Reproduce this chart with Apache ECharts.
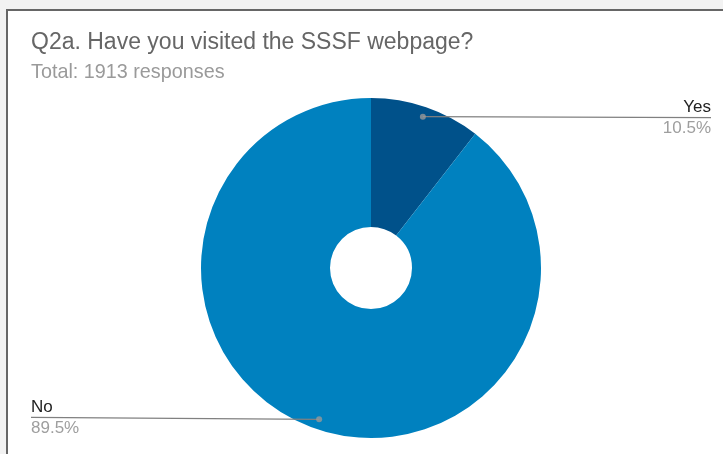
<!DOCTYPE html>
<html>
<head>
<meta charset="utf-8">
<script src="https://cdn.jsdelivr.net/npm/echarts@6/dist/echarts.min.js"></script>
<style>
  html, body { margin: 0; padding: 0; background: #f2f2f2; width: 723px; height: 454px; overflow: hidden; }
  #frame { position: absolute; left: 6px; top: 9px; width: 900px; height: 600px; background: #fff; border-left: 2px solid #666; border-top: 2px solid #666; }
  #chart { position: absolute; left: 0; top: 0; width: 723px; height: 454px; }
</style>
</head>
<body>
<div id="frame"></div>
<div id="chart"></div>
<script>
const titleText = 'Q2a. Have you visited the SSSF webpage?';
const subtitleText = 'Total: 1913 responses';
const categories = ['Yes', 'No'];
const counts = [201, 1712];
const colors = ['#00518a', '#0081bf'];

const total = counts.reduce((a, b) => a + b, 0);
const center = [371, 268];
const chart = echarts.init(document.getElementById('chart'));
const W = 723;
const FONT = 'Liberation Sans, Arial, sans-serif';

// mid-angle positions (percent of circle) for the label anchor dots
const mids = [];
let acc = 0;
counts.forEach(v => { mids.push((acc + v / 2) / total * 100); acc += v; });

const pieData = categories.map((c, i) => ({ name: c, value: counts[i], itemStyle: { color: colors[i] } }));
const ghostData = categories.map((c, i) => ({ name: c, value: counts[i] }));

chart.setOption({
  animation: false,
  title: {
    text: titleText,
    subtext: subtitleText,
    left: 31, top: 31, padding: 0, itemGap: 9,
    textStyle: { fontFamily: FONT, fontSize: 23, fontWeight: 'normal', color: '#666' },
    subtextStyle: { fontFamily: FONT, fontSize: 19.8, color: '#9a9a9a' }
  },
  polar: { center: center, radius: 170 },
  radiusAxis: { min: 0, max: 170, show: false },
  angleAxis: { min: 0, max: 100, startAngle: 90, clockwise: true, show: false },
  series: [
    {
      type: 'pie',
      center: center,
      radius: [41, 170],
      startAngle: 90,
      silent: true,
      label: { show: false },
      labelLine: { show: false },
      data: pieData,
      z: 1
    },
    {
      type: 'pie',
      center: center,
      radius: [0, 160],
      startAngle: 90,
      silent: true,
      itemStyle: { color: 'rgba(0,0,0,0)' },
      label: {
        show: true,
        position: 'outside',
        fontFamily: FONT,
        formatter: p => '{n|' + p.name + '}\n{p|' + (p.value / total * 100).toFixed(1) + '%}',
        rich: {
          n: { fontSize: 17, color: '#222', lineHeight: 21, fontFamily: FONT },
          p: { fontSize: 17, color: '#9e9e9e', lineHeight: 21, fontFamily: FONT }
        }
      },
      labelLine: { show: true, length: 0, length2: 10, lineStyle: { color: '#808080', width: 1.3 } },
      labelLayout: function (params) {
        const pts = params.labelLinePoints;
        if (!pts) return {};
        const s = pts[0];
        const right = s[0] > center[0];
        const ex = right ? W - 12 : 31;
        const ey = right ? s[1] + 1 : s[1] - 2;
        return {
          x: ex,
          y: ey,
          align: right ? 'right' : 'left',
          verticalAlign: 'middle',
          labelLinePoints: [[s[0], s[1]], [ex, ey]]
        };
      },
      data: ghostData,
      z: 2
    },
    {
      type: 'scatter',
      coordinateSystem: 'polar',
      symbol: 'circle',
      symbolSize: 6,
      silent: true,
      itemStyle: { color: '#999' },
      data: mids.map(m => [160, m]),
      z: 3
    }
  ]
});
</script>
</body>
</html>
